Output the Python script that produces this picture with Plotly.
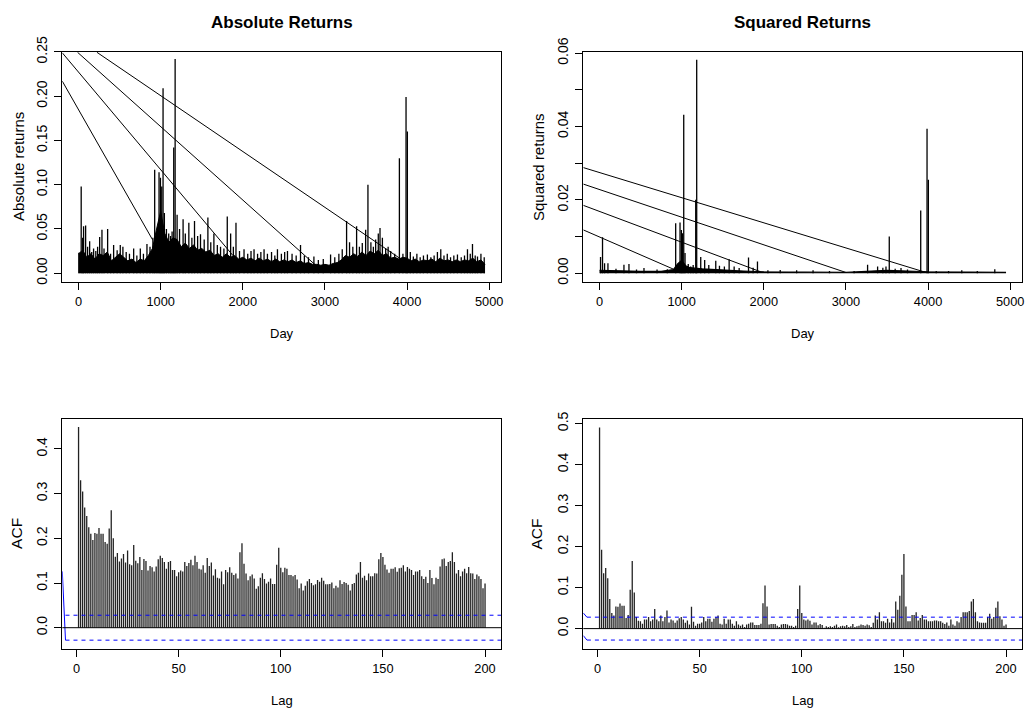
import plotly.graph_objects as go

# ---------------- data ----------------
# Absolute returns: dense band (upper edge of the solid black area), every 50 days
abs_env_days = [0, 50, 100, 150, 200, 250, 300, 350, 400, 450,
                500, 550, 600, 650, 700, 750, 800, 850, 900, 950,
                1000, 1050, 1100, 1150, 1200, 1250, 1300, 1350, 1400, 1450,
                1500, 1550, 1600, 1650, 1700, 1750, 1800, 1850, 1900, 1950,
                2000, 2050, 2100, 2150, 2200, 2250, 2300, 2350, 2400, 2450,
                2500, 2550, 2600, 2650, 2700, 2750, 2800, 2850, 2900, 2950,
                3000, 3050, 3100, 3150, 3200, 3250, 3300, 3350, 3400, 3450,
                3500, 3550, 3600, 3650, 3700, 3750, 3800, 3850, 3900, 3950,
                4000, 4050, 4100, 4150, 4200, 4250, 4300, 4350, 4400, 4450,
                4500, 4550, 4600, 4650, 4700, 4750, 4800, 4850, 4900, 4950]
abs_env_vals = [.022, .026, .018, .022, .016, .022, .020, .024, .014, .018,
                .022, .018, .014, .016, .012, .016, .014, .020, .028, .050,
                .070, .045, .035, .040, .038, .030, .034, .028, .032, .026,
                .028, .024, .026, .020, .022, .018, .022, .018, .020, .016,
                .018, .015, .017, .014, .017, .014, .016, .013, .016, .013,
                .015, .013, .015, .012, .014, .011, .012, .010, .010, .009,
                .010, .009, .011, .012, .015, .020, .018, .022, .019, .024,
                .020, .025, .022, .026, .020, .022, .017, .018, .016, .018,
                .017, .014, .016, .013, .015, .014, .016, .013, .017, .014,
                .015, .013, .015, .013, .015, .014, .017, .013, .015, .010]
# Absolute returns: individual spikes
abs_spike_days = [4, 32, 50, 61, 86, 110, 135, 160, 183, 210,
                  232, 257, 285, 310, 354, 390, 427, 470, 508, 540,
                  580, 620, 671, 710, 752, 790, 833, 870, 905, 927,
                  955, 980, 997, 1013, 1029, 1045, 1070, 1098, 1120, 1139,
                  1159, 1176, 1200, 1230, 1273, 1300, 1343, 1380, 1412, 1450,
                  1485, 1530, 1575, 1610, 1648, 1690, 1729, 1770, 1811, 1852,
                  1885, 1917, 1960, 2015, 2060, 2100, 2137, 2180, 2220, 2259,
                  2300, 2350, 2390, 2422, 2470, 2510, 2544, 2600, 2650, 2703,
                  2750, 2800, 2866, 2920, 2980, 3069, 3120, 3170, 3211, 3264,
                  3300, 3340, 3386, 3420, 3455, 3496, 3524, 3560, 3590, 3618,
                  3650, 3671, 3700, 3740, 3770, 3801, 3850, 3907, 3950, 3988,
                  4004, 4040, 4077, 4120, 4160, 4200, 4248, 4290, 4330, 4370,
                  4411, 4450, 4490, 4530, 4570, 4614, 4660, 4700, 4736, 4770,
                  4797, 4830, 4858, 4900, 4940]
abs_spike_vals = [.023, .098, .040, .053, .054, .030, .036, .024, .028, .025,
                  .030, .041, .049, .028, .050, .022, .032, .026, .032, .030,
                  .024, .022, .028, .020, .028, .022, .033, .030, .040, .117,
                  .045, .114, .108, .098, .209, .068, .050, .045, .042, .047,
                  .142, .242, .066, .050, .061, .045, .057, .040, .059, .042,
                  .044, .038, .063, .035, .045, .032, .030, .028, .064, .045,
                  .030, .057, .025, .027, .022, .025, .027, .022, .024, .027,
                  .022, .024, .020, .027, .022, .024, .025, .022, .020, .032,
                  .020, .018, .019, .015, .016, .021, .018, .022, .027, .059,
                  .035, .030, .053, .030, .034, .049, .100, .035, .030, .038,
                  .045, .051, .040, .028, .030, .025, .022, .130, .022, .199,
                  .160, .024, .019, .022, .018, .020, .021, .018, .020, .024,
                  .027, .020, .022, .018, .020, .021, .018, .020, .027, .022,
                  .033, .020, .019, .022, .018]
# Absolute returns: the four long straight segments (start -> end)
abs_seg_x0 = [-198, -198, -12, 224]
abs_seg_y0 = [0.217, 0.249, 0.2496, 0.2496]
abs_seg_x1 = [900, 1880, 2900, 4005]
abs_seg_y1 = [0.038, 0.020, 0.008, 0.011]

# Squared returns
sq_env_days = [0, 250, 500, 750, 900, 950, 1000, 1050, 1100, 1250, 1500,
               1750, 2000, 2500, 3000, 3250, 3500, 3750, 4000, 4500, 4950]
sq_env_vals = [0.0008, 0.0006, 0.0005, 0.0005, 0.0010, 0.0025, 0.0035, 0.0020,
               0.0015, 0.0012, 0.0008, 0.0006, 0.0004, 0.0003, 0.0002, 0.0005,
               0.0008, 0.0006, 0.0004, 0.0003, 0.0002]
sq_spike_days = [12, 36, 61, 102, 200, 297, 358, 450, 541, 700,
                 825, 927, 980, 996, 1009, 1025, 1041, 1080, 1110, 1140,
                 1171, 1183, 1232, 1280, 1330, 1415, 1460, 1520, 1578, 1639,
                 1700, 1814, 1870, 1923, 2050, 2200, 2400, 2600, 2800, 3100,
                 3264, 3386, 3450, 3488, 3528, 3600, 3671, 3750, 3911, 3988,
                 4004, 4100, 4250, 4411, 4600, 4813]
sq_spike_vals = [.0044, .0098, .0027, .0027, .0012, .0023, .0025, .0010, .0014, .0010,
                 .0011, .0136, .0138, .0118, .0109, .0432, .0055, .0025, .0018, .0022,
                 .0200, .0582, .0044, .0036, .0022, .0034, .0020, .0018, .0038, .0018,
                 .0014, .0043, .0015, .0032, .0008, .0009, .0008, .0008, .0006, .0006,
                 .0023, .0018, .0015, .0018, .0100, .0012, .0014, .0010, .0171, .0394,
                 .0255, .0006, .0006, .0008, .0006, .0011]
sq_seg_x0 = [-198, -198, -198, -198]
sq_seg_y0 = [0.0118, 0.0185, 0.0243, 0.0288]
sq_seg_x1 = [910, 1960, 3000, 3976]
sq_seg_y1 = [0.0010, 0.0004, 0.0002, 0.0002]

# ACF values, lags 1..200
acf_abs = [.449, .330, .305, .269, .250, .225, .210, .196, .212, .210,
           .223, .210, .210, .192, .188, .222, .263, .200, .159, .167,
           .148, .155, .165, .146, .173, .142, .140, .185, .150, .144,
           .158, .129, .154, .149, .128, .138, .135, .126, .137, .153,
           .161, .156, .147, .132, .147, .149, .129, .129, .115, .124,
           .128, .126, .147, .138, .145, .152, .140, .161, .147, .132,
           .130, .140, .123, .156, .138, .146, .117, .131, .112, .110,
           .126, .097, .129, .124, .135, .123, .118, .121, .110, .169,
           .189, .143, .121, .106, .115, .119, .110, .087, .093, .112,
           .122, .109, .099, .103, .110, .098, .098, .141, .179, .134,
           .124, .134, .132, .118, .118, .115, .118, .108, .088, .099,
           .083, .094, .104, .109, .100, .095, .097, .107, .103, .112,
           .105, .097, .097, .098, .101, .088, .094, .090, .106, .098,
           .102, .100, .096, .083, .098, .100, .119, .123, .147, .112,
           .116, .106, .121, .115, .115, .122, .121, .153, .167, .158,
           .141, .130, .123, .132, .132, .135, .125, .133, .134, .140,
           .126, .136, .132, .129, .118, .126, .126, .129, .115, .109,
           .114, .100, .129, .111, .097, .112, .109, .137, .153, .155,
           .138, .147, .149, .169, .147, .121, .129, .115, .126, .132,
           .122, .136, .122, .121, .109, .119, .115, .109, .088, .099]
acf_sq = [.490, .192, .135, .148, .123, .072, .038, .032, .054, .053,
          .061, .056, .056, .026, .033, .095, .165, .088, .028, .019,
          .018, .012, .022, .022, .028, .018, .022, .048, .022, .018,
          .032, .018, .028, .044, .015, .022, .020, .014, .020, .025,
          .028, .022, .014, .020, .010, .053, .017, .007, .012, .012,
          .015, .028, .018, .024, .024, .017, .024, .028, .032, .012,
          .010, .024, .012, .022, .022, .012, .007, .018, .010, .007,
          .010, .004, .010, .012, .015, .015, .009, .009, .009, .012,
          .062, .105, .054, .010, .011, .011, .011, .007, .004, .010,
          .011, .011, .010, .007, .007, .004, .007, .048, .105, .038,
          .022, .020, .022, .019, .010, .015, .015, .008, .011, .009,
          .002, .006, .004, .006, .004, .007, .010, .003, .006, .007,
          .006, .009, .004, .006, .011, .004, .006, .007, .010, .009,
          .007, .010, .008, .004, .014, .032, .022, .040, .018, .018,
          .014, .024, .015, .024, .015, .066, .046, .080, .131, .182,
          .054, .018, .018, .033, .033, .040, .020, .026, .033, .022,
          .022, .018, .018, .018, .020, .020, .018, .018, .014, .011,
          .015, .007, .022, .010, .007, .018, .015, .028, .040, .040,
          .040, .043, .066, .072, .040, .018, .015, .014, .014, .014,
          .028, .036, .024, .028, .051, .066, .030, .022, .007, .010]
lags = list(range(1, 201))

# blue confidence-band lines (x, y) as drawn
ci_level = 0.0279
abs_ci_diag_x = [-6.96, -5.4]
abs_ci_diag_y = [0.126, -0.0279]
sq_ci_up_x = [-6.96, -5.2]
sq_ci_up_y = [0.038, 0.0279]
sq_ci_lo_x = [-6.96, -5.2]
sq_ci_lo_y = [-0.017, -0.0279]
ci_x_start_abs = -5.4
ci_x_start_sq = -5.2

# axis ranges and ticks
day_range = [-198, 5148]
lag_range = [-6.96, 207.96]
abs_y_range = [-0.0096, 0.2503]
sq_y_range = [-0.00232, 0.0604]
acf_abs_range = [-0.047, 0.467]
acf_sq_range = [-0.049, 0.511]

day_ticks = [0, 1000, 2000, 3000, 4000, 5000]
day_labels = ["0", "1000", "2000", "3000", "4000", "5000"]
lag_ticks = [0, 50, 100, 150, 200]
lag_labels = ["0", "50", "100", "150", "200"]
abs_y_ticks = [0, 0.05, 0.10, 0.15, 0.20, 0.25]
abs_y_labels = ["0.00", "0.05", "0.10", "0.15", "0.20", "0.25"]
sq_y_ticks = [0, 0.01, 0.02, 0.03, 0.04, 0.05, 0.06]
sq_y_labels = ["0.00", "", "0.02", "", "0.04", "", "0.06"]
acf_abs_ticks = [0, 0.1, 0.2, 0.3, 0.4]
acf_abs_labels = ["0.0", "0.1", "0.2", "0.3", "0.4"]
acf_sq_ticks = [0, 0.1, 0.2, 0.3, 0.4, 0.5]
acf_sq_labels = ["0.0", "0.1", "0.2", "0.3", "0.4", "0.5"]

assert len(abs_spike_days) == len(abs_spike_vals)
assert len(sq_spike_days) == len(sq_spike_vals)
assert len(abs_env_days) == len(abs_env_vals)
assert len(acf_abs) == 200 and len(acf_sq) == 200

# ---------------- figure ----------------
W, H = 1025, 708
FONT = "Liberation Sans, Arial, Helvetica, sans-serif"


def fx(p):
    return p / W


def fy(p):
    return 1 - p / H


left_dom = [fx(62.3), fx(501.3)]
right_dom = [fx(583.3), fx(1022.3)]
top_dom = [fy(281.7), fy(51.7)]
bot_dom = [fy(648.7), fy(419.0)]


def spikes(days, vals):
    xs, ys = [], []
    for d, v in zip(days, vals):
        xs += [d, d, None]
        ys += [0, v, None]
    return xs, ys


def segs(x0, y0, x1, y1):
    xs, ys = [], []
    for a, b, c, d in zip(x0, y0, x1, y1):
        xs += [a, c, None]
        ys += [b, d, None]
    return xs, ys


fig = go.Figure()
BLACK = "black"

# top-left: absolute returns
fig.add_trace(go.Scatter(x=abs_env_days, y=abs_env_vals, mode="lines", fill="tozeroy",
                         fillcolor=BLACK, line=dict(color=BLACK, width=1),
                         xaxis="x", yaxis="y", hoverinfo="skip"))
sx, sy = spikes(abs_spike_days, abs_spike_vals)
fig.add_trace(go.Scatter(x=sx, y=sy, mode="lines", line=dict(color=BLACK, width=1.3),
                         xaxis="x", yaxis="y", hoverinfo="skip"))
gx, gy = segs(abs_seg_x0, abs_seg_y0, abs_seg_x1, abs_seg_y1)
fig.add_trace(go.Scatter(x=gx, y=gy, mode="lines", line=dict(color=BLACK, width=1),
                         xaxis="x", yaxis="y", hoverinfo="skip"))

# top-right: squared returns
fig.add_trace(go.Scatter(x=sq_env_days, y=sq_env_vals, mode="lines", fill="tozeroy",
                         fillcolor=BLACK, line=dict(color=BLACK, width=1.2),
                         xaxis="x2", yaxis="y2", hoverinfo="skip"))
sx, sy = spikes(sq_spike_days, sq_spike_vals)
fig.add_trace(go.Scatter(x=sx, y=sy, mode="lines", line=dict(color=BLACK, width=1.3),
                         xaxis="x2", yaxis="y2", hoverinfo="skip"))
gx, gy = segs(sq_seg_x0, sq_seg_y0, sq_seg_x1, sq_seg_y1)
fig.add_trace(go.Scatter(x=gx, y=gy, mode="lines", line=dict(color=BLACK, width=1),
                         xaxis="x2", yaxis="y2", hoverinfo="skip"))

# bottom: ACFs as vertical lines (type "h")
BAR = "#222222"
bx, by = spikes(lags, acf_abs)
fig.add_trace(go.Scatter(x=bx, y=by, mode="lines", line=dict(color=BAR, width=1.3),
                         xaxis="x3", yaxis="y3", hoverinfo="skip"))
bx, by = spikes(lags, acf_sq)
fig.add_trace(go.Scatter(x=bx, y=by, mode="lines", line=dict(color=BAR, width=1.3),
                         xaxis="x4", yaxis="y4", hoverinfo="skip"))

BLUE = "#0000ff"
# abs ACF blue lines
fig.add_trace(go.Scatter(x=abs_ci_diag_x, y=abs_ci_diag_y, mode="lines",
                         line=dict(color=BLUE, width=1), xaxis="x3", yaxis="y3", hoverinfo="skip"))
for s in (1, -1):
    fig.add_trace(go.Scatter(x=[ci_x_start_abs, lag_range[1]], y=[s * ci_level, s * ci_level],
                             mode="lines", line=dict(color=BLUE, width=1, dash="4px,4px"),
                             xaxis="x3", yaxis="y3", hoverinfo="skip"))
# squared ACF blue lines
fig.add_trace(go.Scatter(x=sq_ci_up_x, y=sq_ci_up_y, mode="lines",
                         line=dict(color=BLUE, width=1), xaxis="x4", yaxis="y4", hoverinfo="skip"))
fig.add_trace(go.Scatter(x=sq_ci_lo_x, y=sq_ci_lo_y, mode="lines",
                         line=dict(color=BLUE, width=1), xaxis="x4", yaxis="y4", hoverinfo="skip"))
for s in (1, -1):
    fig.add_trace(go.Scatter(x=[ci_x_start_sq, lag_range[1]], y=[s * ci_level, s * ci_level],
                             mode="lines", line=dict(color=BLUE, width=1, dash="4px,4px"),
                             xaxis="x4", yaxis="y4", hoverinfo="skip"))

# zero lines on ACF panels
for xr, yr in (("x3 domain", "y3"), ("x4 domain", "y4")):
    fig.add_shape(type="line", xref=xr, yref=yr, x0=0, x1=1, y0=0, y1=0,
                  line=dict(color=BLACK, width=1))


def axis(domain, rng, tv, tt, anchor, yaxis=False):
    d = dict(domain=domain, range=rng, tickmode="array", tickvals=tv, ticktext=tt,
             showline=True, mirror=True, linecolor=BLACK, linewidth=1,
             ticks="outside", ticklen=7, tickwidth=1, tickcolor=BLACK,
             showgrid=False, zeroline=False, anchor=anchor, automargin=False)
    if yaxis:
        d["tickangle"] = -90
        d["ticklabelstandoff"] = 2
        d["tickfont"] = dict(family=FONT, size=14, color=BLACK)
    else:
        d["ticklabelstandoff"] = 1
        d["tickfont"] = dict(family=FONT, size=12.8, color=BLACK)
    return d


fig.update_layout(
    width=W, height=H, margin=dict(l=0, r=0, t=0, b=0, pad=0, autoexpand=False),
    paper_bgcolor="white", plot_bgcolor="white", showlegend=False,
    xaxis=axis(left_dom, day_range, day_ticks, day_labels, "y"),
    yaxis=axis(top_dom, abs_y_range, abs_y_ticks, abs_y_labels, "x", True),
    xaxis2=axis(right_dom, day_range, day_ticks, day_labels, "y2"),
    yaxis2=axis(top_dom, sq_y_range, sq_y_ticks, sq_y_labels, "x2", True),
    xaxis3=axis(left_dom, lag_range, lag_ticks, lag_labels, "y3"),
    yaxis3=axis(bot_dom, acf_abs_range, acf_abs_ticks, acf_abs_labels, "x3", True),
    xaxis4=axis(right_dom, lag_range, lag_ticks, lag_labels, "y4"),
    yaxis4=axis(bot_dom, acf_sq_range, acf_sq_ticks, acf_sq_labels, "x4", True),
)

cx_l = (62.3 + 501.3) / 2
cx_r = (583.3 + 1022.3) / 2
annots = [
    ("<b>Absolute Returns</b>", cx_l, 23, 0, 17),
    ("<b>Squared Returns</b>", cx_r, 23, 0, 17),
    ("Day", cx_l, 334, 0, 13),
    ("Day", cx_r, 334, 0, 13),
    ("Lag", cx_l, 700, 0, 13),
    ("Lag", cx_r, 700, 0, 13),
    ("Absolute returns", 18.3, 166.7, -90, 15),
    ("Squared returns", 538.3, 166.7, -90, 15),
    ("ACF", 17.0, 533.9, -90, 15.5),
    ("ACF", 536.7, 533.9, -90, 15.5),
]
for txt, px, py, ang, size in annots:
    fig.add_annotation(text=txt, xref="paper", yref="paper", x=fx(px), y=fy(py),
                       xanchor="center", yanchor="middle", showarrow=False,
                       textangle=ang, font=dict(family=FONT, size=size, color=BLACK))

fig.write_html("out.html")
